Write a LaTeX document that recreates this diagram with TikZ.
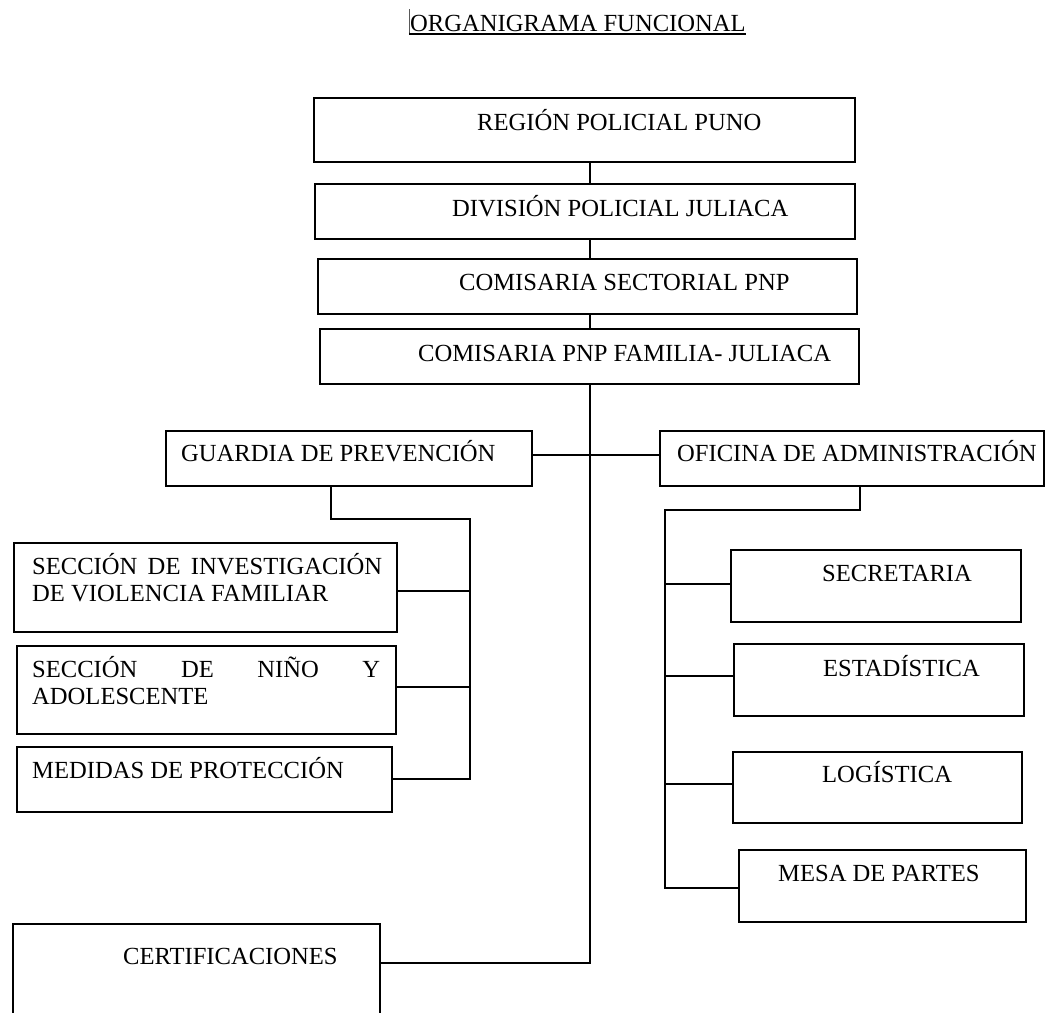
\documentclass[tikz,border=0pt]{standalone}
\usepackage{fontspec}
\setmainfont{Liberation Serif}
\usetikzlibrary{fit}
\begin{document}
\begin{tikzpicture}[x=1pt,y=-1pt,
  box/.style={draw, line width=1.4pt, inner sep=0pt},
  conn/.style={draw, line width=2.7pt},
  txt/.style={inner sep=0pt, anchor=base west, font=\fontsize{24.6}{28}\selectfont}]
\useasboundingbox (0,0) rectangle (1046,1012);
\clip (0,0) rectangle (1046,1012);
% title
\node[txt] (title) at (410,31) {ORGANIGRAMA FUNCIONAL};
\draw[line width=1.4pt] ([yshift=-3pt]title.base west) -- ([yshift=-3pt]title.base east);
\coordinate (cur) at (409,9);
\draw[line width=1pt] (cur) -- (cur |- title.base) -- ++(0,4);
% boxes
\node[box, fit={(314,98) (855,162)}] (b1) {};
\node[box, fit={(315,184) (855,239)}] (b2) {};
\node[box, fit={(318,259) (857,314)}] (b3) {};
\node[box, fit={(320,329) (859,384)}] (b4) {};
\node[box, fit={(166,431) (532,486)}] (guard) {};
\node[box, fit={(660,431) (1044,486)}] (ofi) {};
\node[box, fit={(14,543) (397,632)}] (inv) {};
\node[box, fit={(17,646) (396,734)}] (nino) {};
\node[box, fit={(17,747) (392,812)}] (med) {};
\node[box, fit={(731,550) (1021,622)}] (sec) {};
\node[box, fit={(734,644) (1024,716)}] (est) {};
\node[box, fit={(733,752) (1022,823)}] (log) {};
\node[box, fit={(739,850) (1026,922)}] (mesa) {};
\node[box, fit={(13,924) (380,1030)}] (cert) {};
% texts
\node[txt] (t1) at (477,130) {REGIÓN POLICIAL PUNO};
\node[txt] (t2) at (452,216) {DIVISIÓN POLICIAL JULIACA};
\node[txt] (t3) at (459,290) {COMISARIA SECTORIAL PNP};
\node[txt] (t4) at (418,361) {COMISARIA PNP FAMILIA- JULIACA};
\node[txt] (t5) at (181,461) {GUARDIA DE PREVENCIÓN};
\node[txt] (t6) at (677,461) {OFICINA DE ADMINISTRACIÓN};
\node[txt] (t7) at (32,574) {\makebox[350pt][s]{SECCIÓN\hfill DE\hfill INVESTIGACIÓN}};
\node[txt] (t8) at (32,601) {DE VIOLENCIA FAMILIAR};
\node[txt] (t9) at (32,677) {\makebox[348pt][s]{SECCIÓN\hfill DE\hfill NIÑO\hfill Y}};
\node[txt] (t10) at (32,704) {ADOLESCENTE};
\node[txt] (t11) at (32,778) {MEDIDAS DE PROTECCIÓN};
\node[txt] (t12) at (822,581) {SECRETARIA};
\node[txt] (t13) at (823,676) {ESTADÍSTICA};
\node[txt] (t14) at (822,782) {LOGÍSTICA};
\node[txt] (t15) at (778,881) {MESA DE PARTES};
\node[txt] (t16) at (123,964) {CERTIFICACIONES};
% trunk
\coordinate (tk) at (590,0);
\draw[conn] (b1.south -| tk) -- (b2.north -| tk);
\draw[conn] (b2.south -| tk) -- (b3.north -| tk);
\draw[conn] (b3.south -| tk) -- (b4.north -| tk);
\coordinate (cj) at (590,963);
\draw[conn] (b4.south -| tk) -- (cj) -- (cj -| cert.east);
\coordinate (hj) at (590,455);
\draw[conn] (hj -| guard.east) -- (hj -| ofi.west);
% left tree
\coordinate (g1) at (331,519);
\coordinate (g2) at (470,519);
\coordinate (g3) at (470,779);
\draw[conn] (guard.south -| g1) -- (g1) -- (g2) -- (g3) -- (g3 -| med.east);
\coordinate (ya) at (470,591);
\coordinate (yb) at (470,687);
\draw[conn] (ya -| inv.east) -- (ya);
\draw[conn] (yb -| nino.east) -- (yb);
% right tree
\coordinate (o1) at (860,510);
\coordinate (o2) at (665,510);
\coordinate (o3) at (665,888);
\draw[conn] (ofi.south -| o1) -- (o1) -- (o2) -- (o3) -- (o3 -| mesa.west);
\coordinate (ra) at (665,584);
\coordinate (rb) at (665,676);
\coordinate (rc) at (665,784);
\draw[conn] (ra) -- (ra -| sec.west);
\draw[conn] (rb) -- (rb -| est.west);
\draw[conn] (rc) -- (rc -| log.west);
\end{tikzpicture}
\end{document}
